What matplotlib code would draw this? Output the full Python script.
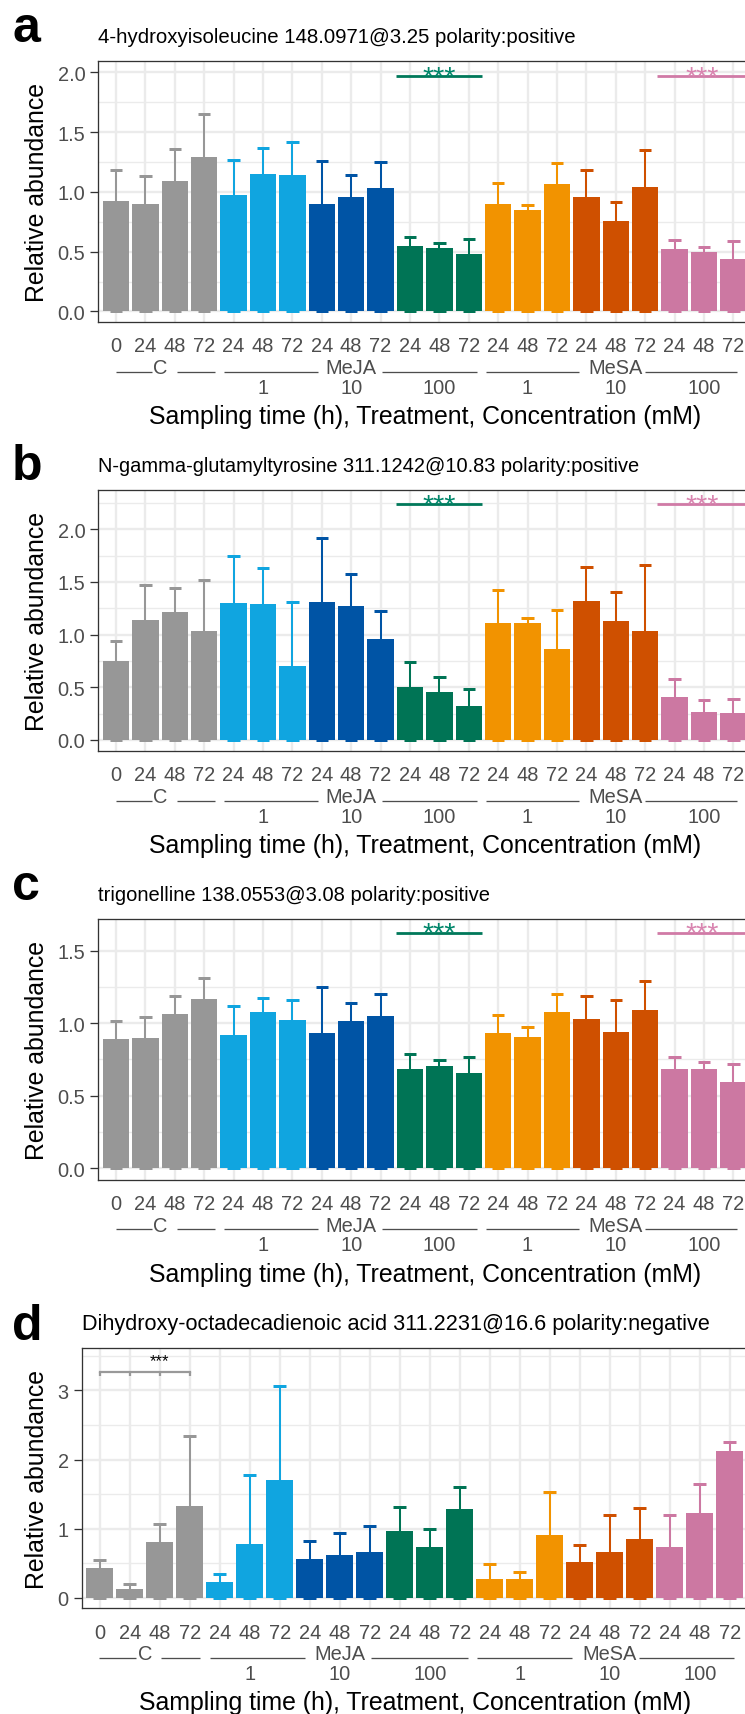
"""Relative abundance bar panels (a-d) for four metabolites under MeJA / MeSA treatment."""

import matplotlib

matplotlib.use("Agg")

import matplotlib.pyplot as plt
from matplotlib.ticker import MultipleLocator, FormatStrFormatter
from matplotlib.transforms import blended_transform_factory, offset_copy

plt.rcParams["font.family"] = ["Liberation Sans", "DejaVu Sans"]

W, H, DPI = 745, 1715, 100
PX = 72 / DPI  # points per pixel

GRID = "#EBEBEB"
FRAME = "#333333"
AXIS_TEXT = "#4D4D4D"

# ---- data -------------------------------------------------------------
TIME_LABELS = ["0", "24", "48", "72"] + ["24", "48", "72"] * 6
GROUP_SIZES = [4, 3, 3, 3, 3, 3, 3]
GROUP_COLORS = ["#979797", "#10A5E0", "#0054A5", "#007455", "#F29300", "#CF5000", "#CC78A2"]
TREATMENTS = ["C", "MeJA", "MeSA"]
TREATMENT_SPAN = [(0, 3), (4, 12), (13, 21)]
CONCENTRATIONS = ["1", "10", "100", "1", "10", "100"]

A_MEAN = [0.923, 0.903, 1.096, 1.295, 0.971, 1.152, 1.141, 0.901, 0.959, 1.032, 0.551,
          0.534, 0.478, 0.901, 0.848, 1.066, 0.954, 0.758, 1.041, 0.523, 0.495, 0.436]
A_SD = [0.257, 0.230, 0.261, 0.361, 0.293, 0.213, 0.280, 0.355, 0.185, 0.221, 0.073,
        0.042, 0.126, 0.173, 0.041, 0.173, 0.229, 0.154, 0.313, 0.073, 0.048, 0.151]

B_MEAN = [0.744, 1.142, 1.218, 1.035, 1.297, 1.291, 0.699, 1.310, 1.275, 0.962, 0.506,
          0.456, 0.320, 1.114, 1.111, 0.858, 1.316, 1.130, 1.038, 0.402, 0.269, 0.259]
B_SD = [0.193, 0.330, 0.225, 0.481, 0.453, 0.336, 0.605, 0.605, 0.298, 0.260, 0.231,
        0.136, 0.167, 0.310, 0.047, 0.373, 0.326, 0.275, 0.620, 0.171, 0.111, 0.130]

C_MEAN = [0.889, 0.896, 1.066, 1.165, 0.917, 1.077, 1.022, 0.935, 1.013, 1.050, 0.685,
          0.703, 0.657, 0.930, 0.903, 1.075, 1.027, 0.937, 1.089, 0.685, 0.685, 0.593]
C_SD = [0.124, 0.149, 0.122, 0.144, 0.204, 0.097, 0.136, 0.315, 0.129, 0.151, 0.105,
        0.044, 0.113, 0.127, 0.073, 0.126, 0.158, 0.221, 0.200, 0.080, 0.048, 0.128]

D_MEAN = [0.438, 0.130, 0.809, 1.329, 0.236, 0.780, 1.709, 0.568, 0.626, 0.660, 0.968,
          0.737, 1.286, 0.279, 0.279, 0.905, 0.520, 0.665, 0.852, 0.742, 1.228, 2.124]
D_SD = [0.116, 0.072, 0.260, 1.011, 0.106, 0.997, 1.354, 0.251, 0.308, 0.380, 0.342,
        0.255, 0.313, 0.207, 0.101, 0.621, 0.241, 0.534, 0.448, 0.452, 0.419, 0.134]

TITLES = [
    "4-hydroxyisoleucine 148.0971@3.25 polarity:positive",
    "N-gamma-glutamyltyrosine 311.1242@10.83 polarity:positive",
    "trigonelline 138.0553@3.08 polarity:positive",
    "Dihydroxy-octadecadienoic acid 311.2231@16.6 polarity:negative",
]
PANEL_LETTERS = ["a", "b", "c", "d"]

# significance marks: (first bar, last bar) for a-c, value of the bar line
SIG_GREEN = (10, 12)
SIG_PINK = (19, 21)
SIG_LEVEL = [1.969, 2.235, 1.620]
STAR_LEVEL = [2.04, 2.317, 1.683]
D_BRACKET = (0, 3)
D_BRACKET_LEVEL = 3.26

# ---- layout (pixels) --------------------------------------------------
PANELS = [
    dict(left=98.3, top=62.0, bottom=323.0, step=29.4, ylim=(-0.088, 2.096), ystep=0.5, fmt="%.1f",
         letter_y=41.7, title_size=14.7),
    dict(left=98.3, top=491.0, bottom=752.0, step=29.4, ylim=(-0.106, 2.372), ystep=0.5, fmt="%.1f",
         letter_y=480.0, title_size=14.4),
    dict(left=98.3, top=920.3, bottom=1180.7, step=29.4, ylim=(-0.079, 1.716), ystep=0.5, fmt="%.1f",
         letter_y=900.0, title_size=14.5),
    dict(left=81.7, top=1349.3, bottom=1609.3, step=30.0, ylim=(-0.149, 3.608), ystep=1.0, fmt="%d",
         letter_y=1340.0, title_size=15.6),
]
# nested axis line pieces (in bar units) around each treatment name
TREATMENT_LINES = [
    [(-0.01, 1.22), (2.06, 3.36)],
    [(3.68, 6.86), (9.05, 12.27)],
    [(12.59, 15.74), (17.98, 21.13)],
]


def bar_colors():
    colors = []
    for size, color in zip(GROUP_SIZES, GROUP_COLORS):
        colors += [color] * size
    return colors


def below_axis(fig, ax, dy):
    base = blended_transform_factory(ax.transData, ax.transAxes)
    return offset_copy(base, fig=fig, x=0, y=-dy, units="dots")


def draw_panel(fig, idx, means, sds):
    p = PANELS[idx]
    n = len(means)
    width_px = (n + 0.2) * p["step"]
    ax = fig.add_axes([p["left"] / W, 1 - p["bottom"] / H, width_px / W, (p["bottom"] - p["top"]) / H])
    x = list(range(n))
    colors = bar_colors()
    upper = [m + s for m, s in zip(means, sds)]

    ax.set_axisbelow(True)
    ax.grid(True, which="major", color=GRID, linewidth=2.4 * PX)
    ax.grid(True, which="minor", axis="y", color=GRID, linewidth=1.4 * PX)

    # error bars sit behind the bars, only the upper half shows
    ax.vlines(x, 0, upper, colors=colors, linewidth=2.0 * PX, zorder=1.5)
    ax.hlines(upper, [i - 0.21 for i in x], [i + 0.21 for i in x], colors=colors, linewidth=3.0 * PX, zorder=1.5)
    ax.hlines([0] * n, [i - 0.21 for i in x], [i + 0.21 for i in x], colors=colors, linewidth=3.0 * PX, zorder=1.5)
    ax.bar(x, means, width=0.9, color=colors, zorder=2)

    ax.set_xlim(-0.6, n - 0.4)
    ax.set_ylim(*p["ylim"])
    ax.set_xticks(x)
    ax.set_xticklabels(TIME_LABELS)
    ax.yaxis.set_major_locator(MultipleLocator(p["ystep"]))
    ax.yaxis.set_minor_locator(MultipleLocator(p["ystep"] / 2))
    ax.yaxis.set_major_formatter(FormatStrFormatter(p["fmt"]))

    ax.tick_params(axis="x", length=0, pad=14.4 * PX, labelsize=14.4, labelcolor=AXIS_TEXT)
    ax.tick_params(axis="y", which="major", length=7.6 * PX, width=1.3 * PX, color=FRAME,
                   pad=5.3 * PX, labelsize=14.4, labelcolor=AXIS_TEXT)
    ax.tick_params(axis="y", which="minor", length=0)
    for spine in ax.spines.values():
        spine.set_color(FRAME)
        spine.set_linewidth(1.3 * PX)

    # nested x axis: treatment row with lines, then concentration row
    line_tr = below_axis(fig, ax, 49.5)
    name_tr = below_axis(fig, ax, 51.0)
    for name, (lo, hi), pieces in zip(TREATMENTS, TREATMENT_SPAN, TREATMENT_LINES):
        ax.text((lo + hi) / 2, 0, name, transform=name_tr, ha="center", va="baseline",
                fontsize=14.4, color=AXIS_TEXT)
        for a, b in pieces:
            ax.plot([a, b], [0, 0], transform=line_tr, color=AXIS_TEXT, linewidth=1.3 * PX,
                    clip_on=False, solid_capstyle="butt")
    conc_tr = below_axis(fig, ax, 70.7)
    start = GROUP_SIZES[0]
    for conc, size in zip(CONCENTRATIONS, GROUP_SIZES[1:]):
        ax.text(start + (size - 1) / 2, 0, conc, transform=conc_tr, ha="center", va="baseline",
                fontsize=14.4, color=AXIS_TEXT)
        start += size

    xlab_tr = offset_copy(ax.transAxes, fig=fig, x=0, y=-101.0, units="dots")
    ax.text(0.5, 0, "Sampling time (h), Treatment, Concentration (mM)", transform=xlab_tr,
            ha="center", va="baseline", fontsize=17.9, color="black")

    fig.text(37 / W, 1 - (p["top"] + p["bottom"]) / 2 / H, "Relative abundance", rotation=90,
             ha="center", va="center", fontsize=17.9, color="black")
    fig.text(p["left"] / W, 1 - (p["top"] - 19.0) / H, TITLES[idx], ha="left", va="baseline",
             fontsize=p["title_size"], color="black")
    fig.text(12 / W, 1 - p["letter_y"] / H, PANEL_LETTERS[idx], ha="left", va="baseline",
             fontsize=36, fontweight="bold", color="black")
    return ax


def add_sig_bar(ax, span, level, color, star_color, star_level):
    lo, hi = span
    ax.plot([lo - 0.47, hi + 0.44], [level, level], color=color, linewidth=2.0, solid_capstyle="butt", zorder=3)
    ax.annotate("***", xy=((lo + hi) / 2, star_level), xytext=(0, -16.4 * PX), textcoords="offset points",
                ha="center", va="baseline", fontsize=20.5, color=star_color)


fig = plt.figure(figsize=(W / DPI, H / DPI), dpi=DPI)
fig.patch.set_facecolor("white")

series = [(A_MEAN, A_SD), (B_MEAN, B_SD), (C_MEAN, C_SD), (D_MEAN, D_SD)]
axes = []
for i, (m, s) in enumerate(series):
    axes.append(draw_panel(fig, i, m, s))

for i in range(3):
    ax = axes[i]
    add_sig_bar(ax, SIG_GREEN, SIG_LEVEL[i], "#00785A", "#00866A", STAR_LEVEL[i])
    add_sig_bar(ax, (SIG_PINK[0] - 0.12, SIG_PINK[1]), SIG_LEVEL[i], "#D07AA6", "#D985B0", STAR_LEVEL[i])

ax = axes[3]
lo, hi = D_BRACKET
ax.plot([lo, hi], [D_BRACKET_LEVEL, D_BRACKET_LEVEL], color="#999999", linewidth=1.6, zorder=3)
ax.vlines(range(lo, hi + 1), D_BRACKET_LEVEL - 0.05, D_BRACKET_LEVEL, colors="#999999", linewidth=1.6, zorder=3)
ax.annotate("***", xy=(2, 3.49), xytext=(0, -8.8 * PX), textcoords="offset points",
            ha="center", va="baseline", fontsize=12, color="black")

fig.savefig("out.png", dpi=DPI, facecolor="white")
